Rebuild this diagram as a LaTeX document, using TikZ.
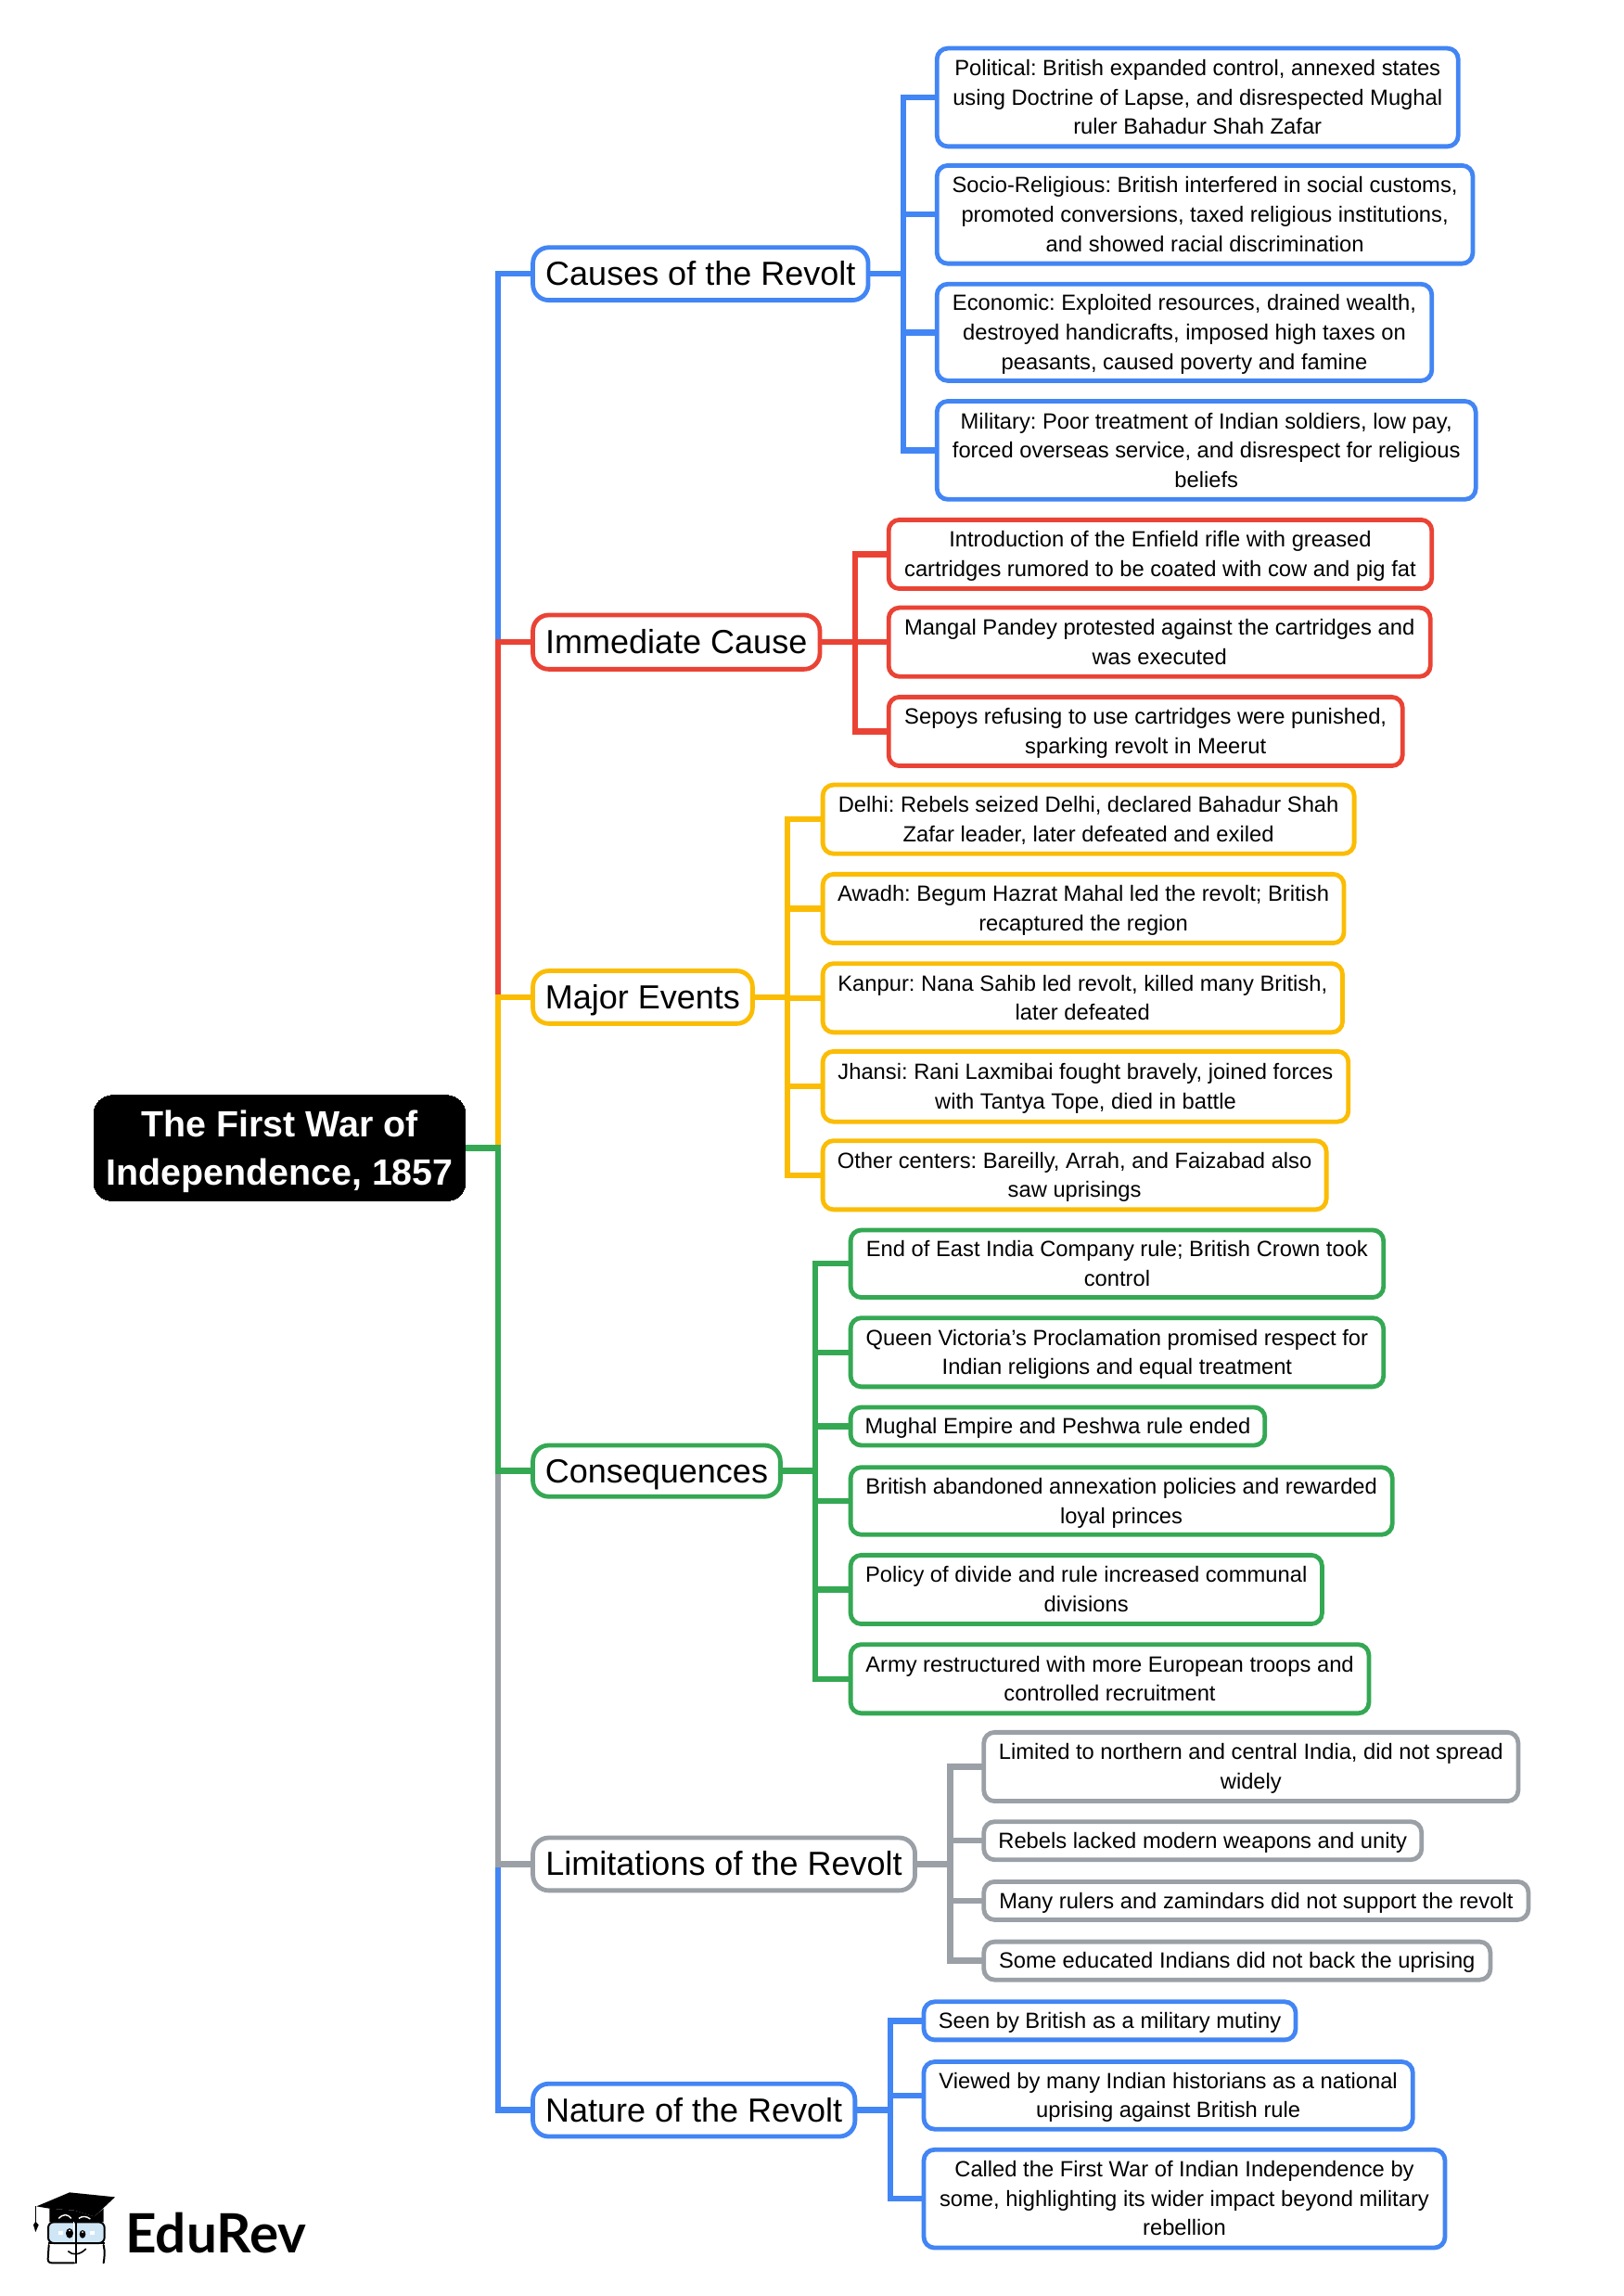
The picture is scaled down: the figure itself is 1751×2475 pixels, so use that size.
\documentclass[tikz,border=0pt]{standalone}
\usepackage{fontspec}
\setmainfont{Liberation Sans}
\newfontfamily\logofont{Lato}
\definecolor{cblue}{HTML}{4285F4}
\definecolor{cred}{HTML}{EA4335}
\definecolor{cyellow}{HTML}{FBBC04}
\definecolor{cgreen}{HTML}{34A853}
\definecolor{cgrey}{HTML}{9AA0A6}
\definecolor{lensblue}{HTML}{CFE6F7}
\frenchspacing
\newcommand{\bx}[8][leafbox]{%
  \pgfmathsetmacro{\cxx}{(#3+#5)/2*1.5785}%
  \pgfmathsetmacro{\cyy}{(#4+#6)/2*1.5785}%
  \pgfmathsetmacro{\ww}{(#5-#3)*1.5785*0.5}%
  \pgfmathsetmacro{\hh}{(#6-#4)*1.5785*0.5}%
  \node[#1,draw=#7,minimum width=\ww pt,minimum height=\hh pt] (#2) at (\cxx,\cyy) {\rule{0pt}{.905em}#8\rule[-.212em]{0pt}{.212em}};}
\tikzset{
  leafbox/.style={rounded corners=5.8pt,line width=2.4pt,fill=white,inner sep=0pt,outer sep=0pt,align=center,text=black,
    font=\fontsize{11.87}{15.8}\selectfont},
  topbox/.style={rounded corners=8.5pt,line width=2.4pt,fill=white,inner sep=0pt,outer sep=0pt,align=center,text=black,
    font=\fontsize{18}{22}\selectfont},
  rootbox/.style={rounded corners=10pt,line width=0pt,fill=black,inner sep=0pt,outer sep=0pt,align=center,text=white,
    font=\fontsize{19.7}{25.9}\selectfont\bfseries},
  conn/.style={line width=3.2pt,line join=miter,line cap=butt},
}
\begin{document}
\begin{tikzpicture}[x=0.5pt,y=-0.5pt]
\useasboundingbox (0,0) rectangle (1751,2475);
\fill[white] (0,0) rectangle (1751,2475);

% root
\bx[rootbox]{root}{64}{748}{318}{820}{black}{The First War of\\Independence, 1857}

% level 2
\bx[topbox]{causes}{364}{169}{593}{205}{cblue}{Causes of the Revolt}
\bx[topbox]{immediate}{364}{420}{560}{457}{cred}{Immediate Cause}
\bx[topbox]{major}{364}{663}{514}{699}{cyellow}{Major Events}
\bx[topbox]{conseq}{364}{987}{533}{1022}{cgreen}{Consequences}
\bx[topbox]{limits}{364}{1255}{625}{1291}{cgrey}{Limitations of the Revolt}
\bx[topbox]{nature}{364}{1423}{584}{1459}{cblue}{Nature of the Revolt}

% causes
\bx{c1}{640}{33}{996}{100}{cblue}{Political: British expanded control, annexed states\\using Doctrine of Lapse, and disrespected Mughal\\ruler Bahadur Shah Zafar}
\bx{c2}{640}{113}{1006}{180}{cblue}{Socio-Religious: British interfered in social customs,\\promoted conversions, taxed religious institutions,\\and showed racial discrimination}
\bx{c3}{640}{194}{978}{260}{cblue}{Economic: Exploited resources, drained wealth,\\destroyed handicrafts, imposed high taxes on\\peasants, caused poverty and famine}
\bx{c4}{640}{274}{1008}{341}{cblue}{Military: Poor treatment of Indian soldiers, low pay,\\forced overseas service, and disrespect for religious\\beliefs}
% immediate
\bx{i1}{607}{355}{978}{402}{cred}{Introduction of the Enfield rifle with greased\\cartridges rumored to be coated with cow and pig fat}
\bx{i2}{607}{415}{977}{462}{cred}{Mangal Pandey protested against the cartridges and\\was executed}
\bx{i3}{607}{476}{958}{523}{cred}{Sepoys refusing to use cartridges were punished,\\sparking revolt in Meerut}
% major
\bx{m1}{562}{536}{925}{583}{cyellow}{Delhi: Rebels seized Delhi, declared Bahadur Shah\\Zafar leader, later defeated and exiled}
\bx{m2}{562}{597}{918}{644}{cyellow}{Awadh: Begum Hazrat Mahal led the revolt; British\\recaptured the region}
\bx{m3}{562}{658}{917}{705}{cyellow}{Kanpur: Nana Sahib led revolt, killed many British,\\later defeated}
\bx{m4}{562}{718}{921}{766}{cyellow}{Jhansi: Rani Laxmibai fought bravely, joined forces\\with Tantya Tope, died in battle}
\bx{m5}{562}{779}{906}{826}{cyellow}{Other centers: Bareilly, Arrah, and Faizabad also\\saw uprisings}
% consequences
\bx{q1}{581}{840}{945}{886}{cgreen}{End of East India Company rule; British Crown took\\control}
\bx{q2}{581}{900}{945}{947}{cgreen}{Queen Victoria's Proclamation promised respect for\\Indian religions and equal treatment}
\bx{q3}{581}{961}{864}{987}{cgreen}{Mughal Empire and Peshwa rule ended}
\bx{q4}{581}{1002}{951}{1048}{cgreen}{British abandoned annexation policies and rewarded\\loyal princes}
\bx{q5}{581}{1062}{903}{1109}{cgreen}{Policy of divide and rule increased communal\\divisions}
\bx{q6}{581}{1123}{935}{1170}{cgreen}{Army restructured with more European troops and\\controlled recruitment}
% limitations
\bx{l1}{672}{1183}{1037}{1230}{cgrey}{Limited to northern and central India, did not spread\\widely}
\bx{l2}{672}{1244}{971}{1270}{cgrey}{Rebels lacked modern weapons and unity}
\bx{l3}{672}{1285}{1044}{1311}{cgrey}{Many rulers and zamindars did not support the revolt}
\bx{l4}{672}{1326}{1018}{1352}{cgrey}{Some educated Indians did not back the uprising}
% nature
\bx{n1}{631}{1367}{885}{1393}{cblue}{Seen by British as a military mutiny}
\bx{n2}{631}{1408}{965}{1454}{cblue}{Viewed by many Indian historians as a national\\uprising against British rule}
\bx{n3}{631}{1468}{987}{1535}{cblue}{Called the First War of Indian Independence by\\some, highlighting its wider impact beyond military\\rebellion}

% bus coordinates
\coordinate (t0) at (537,0);
\coordinate (bc) at (974,0);
\coordinate (bi) at (922,0);
\coordinate (bm) at (849,0);
\coordinate (bq) at (879,0);
\coordinate (bl) at (1024.5,0);
\coordinate (bn) at (960,0);

% main trunk, in overlap order
\draw[conn,cblue] (root.east) -- (t0 |- root.east) |- (causes.west);
\draw[conn,cred] (root.east) -- (t0 |- root.east) |- (immediate.west);
\draw[conn,cyellow] (root.east) -- (t0 |- root.east) |- (major.west);
\draw[conn,cblue] (root.east) -- (t0 |- root.east) |- (nature.west);
\draw[conn,cgrey] (root.east) -- (t0 |- root.east) |- (limits.west);
\draw[conn,cgreen] (root.east) -- (t0 |- root.east) |- (conseq.west);

% branches
\foreach \k in {c1,c2,c3,c4} \draw[conn,cblue] (causes.east) -- (bc |- causes.east) |- (\k.west);
\foreach \k in {i1,i2,i3} \draw[conn,cred] (immediate.east) -- (bi |- immediate.east) |- (\k.west);
\foreach \k in {m1,m2,m3,m4,m5} \draw[conn,cyellow] (major.east) -- (bm |- major.east) |- (\k.west);
\foreach \k in {q1,q2,q3,q4,q5,q6} \draw[conn,cgreen] (conseq.east) -- (bq |- conseq.east) |- (\k.west);
\foreach \k in {l1,l2,l3,l4} \draw[conn,cgrey] (limits.east) -- (bl |- limits.east) |- (\k.west);
\foreach \k in {n1,n2,n3} \draw[conn,cblue] (nature.east) -- (bn |- nature.east) |- (\k.west);

% logo
\node[anchor=base west,inner sep=0pt,font=\fontsize{29.2}{30}\logofont\bfseries,text=black] (logotext) at (135,2428) {EduRev};
\begin{scope}[x=0.16667pt,y=-0.16667pt,yshift=-1125pt]
  \fill[black] (118,385) -- (225,340) -- (372,355) -- (305,418) -- (240,398) -- (160,392) -- cycle;
  \fill[black] (160,392) -- (240,398) -- (305,418) -- (335,392) -- (335,436) -- (160,436) -- cycle;
  \draw[white,line width=0.7pt] (190,424) .. controls (205,408) and (220,410) .. (230,424);
  \draw[white,line width=0.7pt] (255,424) .. controls (265,416) and (280,416) .. (292,426);
  \draw[black,line width=0.7pt] (115,385) -- (115,438);
  \fill[black] (108,445) -- (115,434) -- (125,445) -- (115,468) -- cycle;
  \draw[black,line width=1pt,fill=lensblue,rounded corners=3pt] (156,436) rectangle (338,504);
  \draw[black,line width=1pt,line cap=round] (158,510) -- (155,555) .. controls (155,565) and (160,568) .. (170,568) -- (240,568);
  \draw[black,line width=1pt,line cap=round] (335,510) .. controls (340,530) and (338,550) .. (335,568);
  \draw[black,line width=1pt] (156,504) -- (338,504);
  \draw[black,line width=1pt] (245,436) -- (245,570);
  \draw[white,line width=0.5pt] (239,436) -- (239,500);
  \fill[black] (225,472) ellipse[x radius=12,y radius=16];
  \fill[black] (267,475) ellipse[x radius=10,y radius=13];
  \fill[white] (225,463) circle[radius=3];
  \fill[white] (267,468) circle[radius=3];
  \fill[white] (190,464) rectangle (204,477);
  \fill[white] (291,464) rectangle (305,477);
  \draw[black,line width=0.8pt] (220,530) .. controls (235,545) and (260,542) .. (278,522);
\end{scope}
\end{tikzpicture}
\end{document}
